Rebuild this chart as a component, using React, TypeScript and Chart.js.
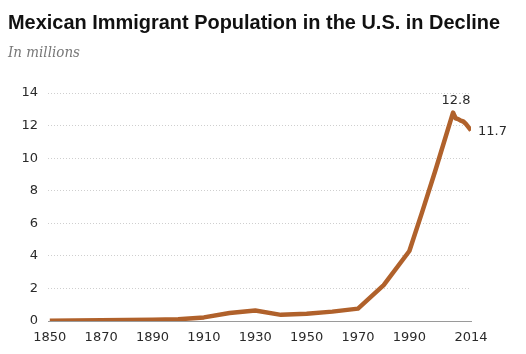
import React, { useEffect, useRef } from "react";
import { Chart, registerables } from "chart.js";

Chart.register(...registerables);

const TITLE = "Mexican Immigrant Population in the U.S. in Decline";
const SUBTITLE = "In millions";

const years = [1850, 1860, 1870, 1880, 1890, 1900, 1910, 1920, 1930, 1940, 1950, 1960, 1970, 1980, 1990, 1995, 2000, 2007, 2008, 2009, 2010, 2011, 2012, 2013, 2014];
const population = [0.013, 0.027, 0.042, 0.068, 0.078, 0.103, 0.222, 0.486, 0.641, 0.377, 0.451, 0.576, 0.76, 2.199, 4.298, 6.7, 9.177, 12.8, 12.45, 12.4, 12.3, 12.25, 12.1, 11.9, 11.7];
const xTicks = [1850, 1870, 1890, 1910, 1930, 1950, 1970, 1990, 2014];
const peakYear = 2007;
const peakLabel = "12.8";
const endYear = 2014;
const endLabel = "11.7";

const LINE_COLOR = "#b0612b";

const decor = {
  id: "decor",
  afterDraw(chart: any) {
    const ctx = chart.ctx;
    ctx.save();
    ctx.textAlign = "left";
    ctx.textBaseline = "alphabetic";
    ctx.fillStyle = "#111";
    ctx.font = 'bold 20px "Liberation Sans", Arial, sans-serif';
    ctx.fillText(TITLE, 8, 29, 492);
    ctx.fillStyle = "#777";
    ctx.font = 'italic 14px "DejaVu Serif", serif';
    ctx.fillText(SUBTITLE, 8, 57, 72);

    const xs = chart.scales.x;
    const ys = chart.scales.y;
    ctx.font = '13px "DejaVu Sans", sans-serif';
    ctx.fillStyle = "#2a2a2a";
    const pi = years.indexOf(peakYear);
    ctx.textAlign = "center";
    ctx.textBaseline = "bottom";
    ctx.fillText(peakLabel, xs.getPixelForValue(peakYear) + 3, ys.getPixelForValue(population[pi]) - 5);
    const ei = years.indexOf(endYear);
    ctx.textAlign = "left";
    ctx.textBaseline = "middle";
    ctx.fillText(endLabel, xs.getPixelForValue(endYear) + 7, ys.getPixelForValue(population[ei]) + 1);
    ctx.restore();
  },
};

export default function App() {
  const ref = useRef<HTMLCanvasElement | null>(null);
  useEffect(() => {
    if (!ref.current) return;
    const chart = new Chart(ref.current, {
      type: "line",
      data: {
        datasets: [
          {
            data: years.map((y, i) => ({ x: y, y: population[i] })),
            borderColor: LINE_COLOR,
            borderWidth: 4.5,
            pointRadius: 0,
            tension: 0,
            borderJoinStyle: "round",
            borderCapStyle: "butt",
            fill: false,
          },
        ],
      },
      options: {
        responsive: false,
        animation: false,
        layout: { padding: { top: 93, right: 55, left: 0, bottom: 0 } },
        plugins: { legend: { display: false }, tooltip: { enabled: false }, title: { display: false } },
        scales: {
          x: {
            type: "linear",
            min: 1849.3,
            max: 2014,
            afterBuildTicks: (scale: any) => {
              scale.ticks = xTicks.map((v) => ({ value: v }));
            },
            afterFit: (scale: any) => {
              scale.height = 33;
            },
            ticks: {
              autoSkip: false,
              maxRotation: 0,
              padding: 9,
              color: "#2a2a2a",
              font: { family: '"DejaVu Sans", sans-serif', size: 13 },
              callback: (v: any) => String(v),
            },
            grid: { display: false, drawTicks: false },
            border: { display: true, color: "#9a9a9a", width: 1 },
          },
          y: {
            min: 0,
            max: 14,
            afterFit: (scale: any) => {
              scale.width = 48;
            },
            ticks: {
              stepSize: 2,
              padding: 10,
              color: "#2a2a2a",
              font: { family: '"DejaVu Sans", sans-serif', size: 13 },
            },
            grid: { color: "#cfcfcf", drawTicks: false },
            border: { display: false, dash: [1, 2] },
          },
        },
      },
      plugins: [decor],
    });
    return () => chart.destroy();
  }, []);
  return (
    <div style={{ position: "absolute", left: 0, top: 0, width: 526, height: 354, background: "#fff" }}>
      <canvas ref={ref} width={526} height={354} style={{ display: "block" }} />
    </div>
  );
}
